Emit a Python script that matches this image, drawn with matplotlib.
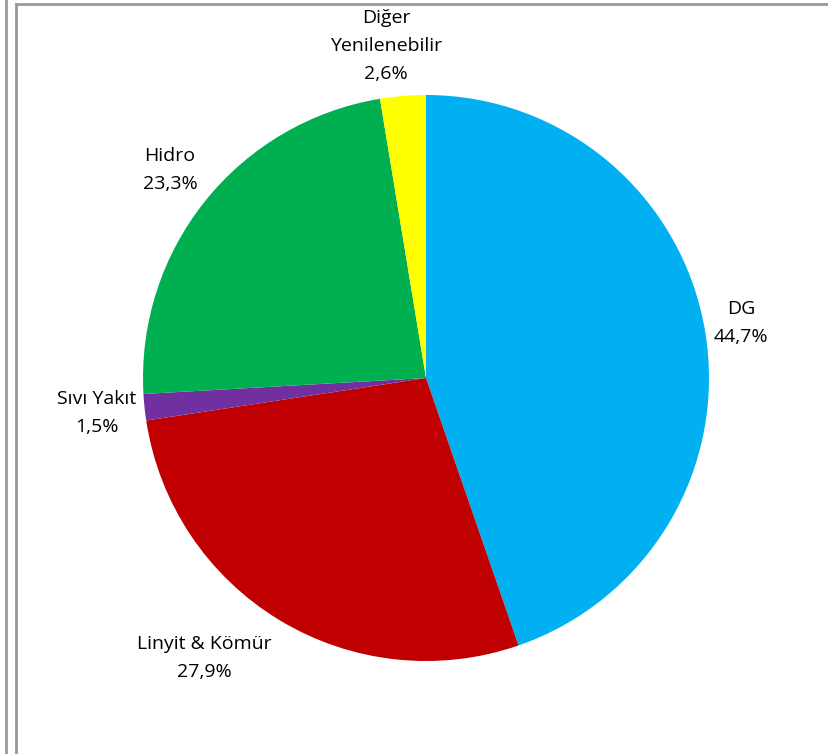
import matplotlib.pyplot as plt
from matplotlib.lines import Line2D

labels = ["DG", "Linyit & Kömür", "Sıvı Yakıt", "Hidro", "Diğer\nYenilenebilir"]
shares = [44.7, 27.9, 1.5, 23.3, 2.6]
colors = ["#00B0F0", "#C00000", "#7030A0", "#00B050", "#FFFF00"]
# label anchor positions (pixels, from top-left)
label_pos = [(741, 323), (204, 658), (97, 413), (170, 170), (386, 46)]

W, H = 829, 754
fig = plt.figure(figsize=(W / 100, H / 100), dpi=100)
ax = fig.add_axes([0, 0, 1, 1])

# y axis is inverted below, so counterclock=True draws clockwise on screen
# and startangle=-90 puts the first wedge at the top
ax.pie(shares, colors=colors, startangle=-90, counterclock=True,
       center=(426, 378), radius=283, frame=True,
       wedgeprops=dict(linewidth=0))
ax.set_xlim(0, W)
ax.set_ylim(H, 0)
ax.set_aspect("equal")
ax.axis("off")

for lab, val, (x, y) in zip(labels, shares, label_pos):
    txt = lab + "\n" + ("%.1f%%" % val).replace(".", ",")
    ax.text(x, y, txt, ha="center", va="center", fontsize=14,
            family="Open Sans", linespacing=1.7, color="black")

# frame lines
gray = "#999999"
fig.add_artist(Line2D([6.5 / W, 6.5 / W], [0, 1], color=gray, lw=2))
fig.add_artist(Line2D([16.5 / W, 16.5 / W], [0, 1 - 3.5 / H], color=gray, lw=2))
fig.add_artist(Line2D([16.5 / W, 1], [1 - 3.5 / H, 1 - 3.5 / H], color=gray, lw=2))

fig.savefig("out.png", dpi=100)
